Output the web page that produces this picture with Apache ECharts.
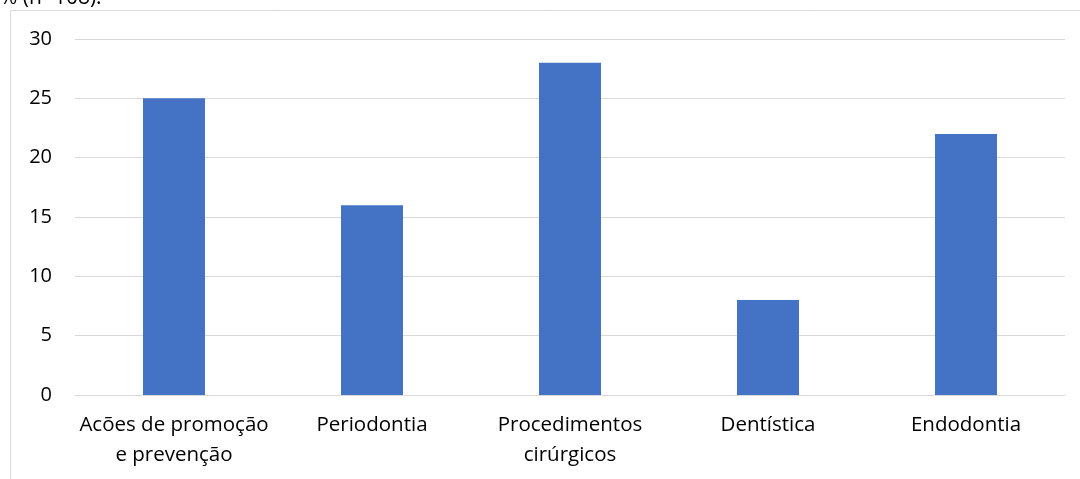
<!DOCTYPE html>
<html>
<head>
<meta charset="utf-8">
<script src="https://cdn.jsdelivr.net/npm/echarts@6/dist/echarts.min.js"></script>
<style>
  html, body { margin: 0; padding: 0; background: #fff; }
  #chart { width: 1080px; height: 479px; }
</style>
</head>
<body>
<div id="chart"></div>
<script>
const categories = ['Acões de promoção\ne prevenção', 'Periodontia', 'Procedimentos\ncirúrgicos', 'Dentística', 'Endodontia'];
const values = [25, 16, 28, 8, 22];
const yTicks = [0, 5, 10, 15, 20, 25, 30];

const FONT = '"Open Sans", "Noto Sans", sans-serif';

const chart = echarts.init(document.getElementById('chart'), null, { renderer: 'canvas' });
chart.setOption({
  animation: false,
  backgroundColor: '#ffffff',
  grid: { left: 75, right: 15, top: 39, bottom: 84 },
  graphic: [
    {
      type: 'polyline',
      shape: { points: [[10.5, 479], [10.5, 10.5], [1080, 10.5]] },
      style: { stroke: '#d9d9d9', lineWidth: 1, fill: null },
      silent: true
    },
    {
      type: 'text',
      x: 0,
      y: 9,
      style: { text: '% (n=108):', font: '21px ' + FONT, fill: '#000000', verticalAlign: 'bottom' },
      silent: true
    }
  ],
  xAxis: {
    type: 'category',
    data: categories,
    axisLine: { show: true, lineStyle: { color: '#d9d9d9', width: 1 } },
    axisTick: { show: false },
    axisLabel: {
      color: '#000000',
      fontFamily: FONT,
      fontSize: 20.5,
      lineHeight: 30,
      margin: 15,
      interval: 0
    }
  },
  yAxis: {
    type: 'value',
    min: yTicks[0],
    max: yTicks[yTicks.length - 1],
    interval: 5,
    axisLine: { show: false },
    axisTick: { show: false },
    splitLine: { lineStyle: { color: '#d9d9d9', width: 1 } },
    axisLabel: {
      color: '#000000',
      fontFamily: FONT,
      fontSize: 20,
      margin: 23
    }
  },
  series: [{
    type: 'bar',
    data: values,
    barWidth: 62,
    itemStyle: { color: '#4472c4' }
  }]
});
</script>
</body>
</html>
